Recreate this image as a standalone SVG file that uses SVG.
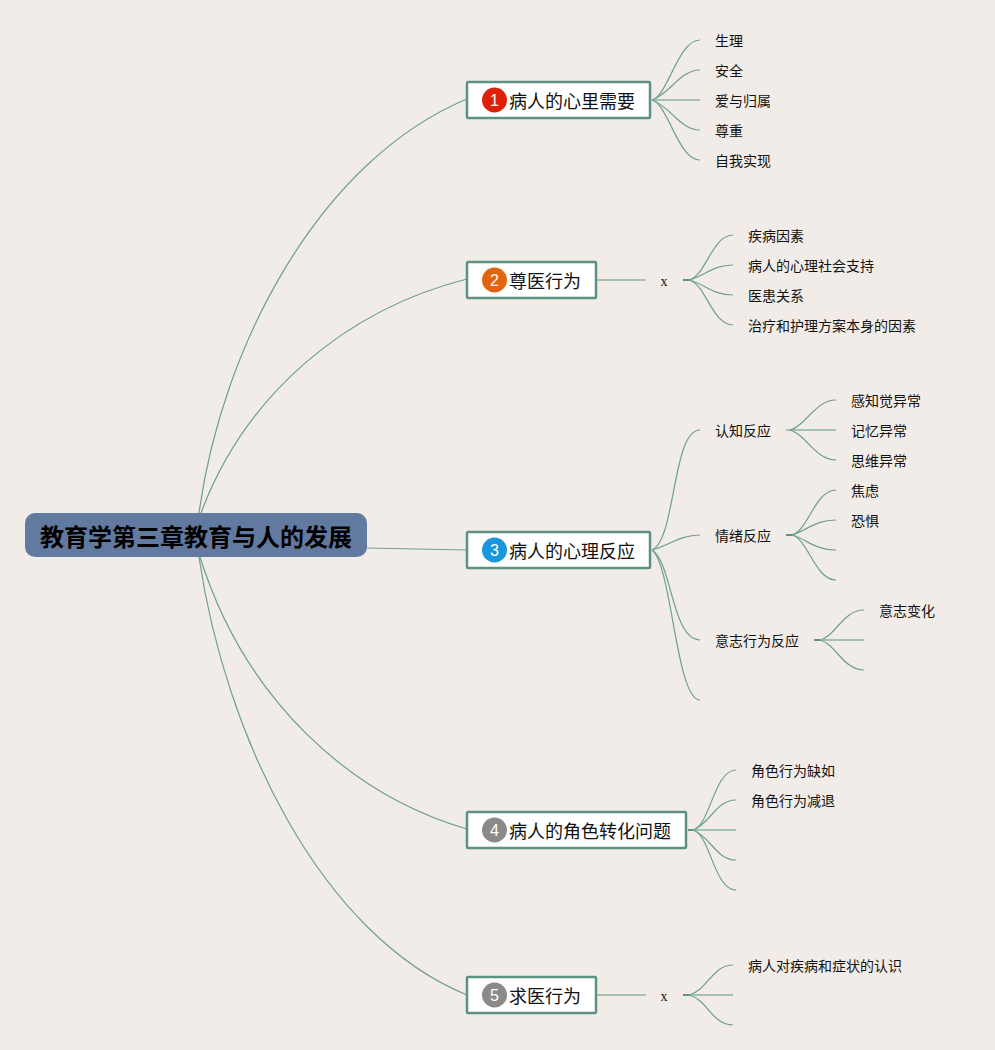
<svg xmlns="http://www.w3.org/2000/svg" width="995" height="1050" viewBox="0 0 995 1050">
<style>
text{font-family:"Noto Sans CJK SC","Liberation Sans",sans-serif;fill:#111}
.c{fill:none;stroke:#6fa08f;stroke-width:1.2}
.s{fill:none;stroke:#8db5a7;stroke-width:1.6}
.t{fill:none;stroke:#5f9484;stroke-width:2}
.b{fill:#fff;stroke:#5d9184;stroke-width:2.5}
.l{font-size:14px}
.m{font-size:18px}
.n{font-size:16px;fill:#fff;text-anchor:middle;font-family:"Liberation Sans",sans-serif}
.x{font-size:14px;font-family:"Liberation Serif",serif;text-anchor:middle}
</style>
<rect width="995" height="1050" fill="#f1ece7"/>
<g id="connectors">
<path class="c" d="M199 513C222 345 320 160 467 99"/>
<path class="c" d="M201 513C245 395 345 310 467 279"/>
<path class="c" d="M367 548L467 550"/>
<path class="c" d="M200 557C245 700 350 795 467 829"/>
<path class="c" d="M199 557C225 735 320 935 467 995"/>

<path class="c" d="M652 100C668 96 678 40 700 40"/>
<path class="c" d="M652 100C670 94 680 70 700 70"/>
<path class="s" d="M652 100H700"/>
<path class="c" d="M652 100C670 106 680 130 700 130"/>
<path class="c" d="M652 100C668 104 678 160 700 160"/>

<path class="s" d="M597 280H646"/>
<path class="t" d="M683 280H691"/>
<path class="c" d="M689 280C706 276 712 235 733 235"/>
<path class="c" d="M689 280C705 276 712 265 733 265"/>
<path class="c" d="M689 280C705 284 712 295 733 295"/>
<path class="c" d="M689 280C706 284 712 325 733 325"/>

<path class="c" d="M652 550C676 540 672 430 700 430"/>
<path class="c" d="M652 550C668 546 680 535 700 535"/>
<path class="c" d="M652 550C672 562 672 640 700 640"/>
<path class="c" d="M652 550C672 565 676 700 700 700"/>

<path class="s" d="M786 430H836"/>
<path class="c" d="M790 430C806 426 815 400 836 400"/>
<path class="c" d="M790 430C806 434 815 460 836 460"/>
<path class="t" d="M786 535H794"/>
<path class="c" d="M792 535C808 531 815 490 836 490"/>
<path class="c" d="M792 535C808 530 815 520 836 520"/>
<path class="c" d="M792 535C808 540 815 550 836 550"/>
<path class="c" d="M792 535C808 539 815 580 836 580"/>
<path class="t" d="M814 640H822"/>
<path class="c" d="M820 640C836 636 843 610 864 610"/>
<path class="s" d="M820 640H864"/>
<path class="c" d="M820 640C836 644 843 670 864 670"/>

<path class="t" d="M688 830H696"/>
<path class="c" d="M693 830C710 826 714 770 736 770"/>
<path class="c" d="M693 830C710 824 716 800 736 800"/>
<path class="s" d="M693 830H736"/>
<path class="c" d="M693 830C710 836 716 860 736 860"/>
<path class="c" d="M693 830C710 834 714 890 736 890"/>

<path class="s" d="M597 995H646"/>
<path class="t" d="M683 995H691"/>
<path class="c" d="M689 995C708 990 712 965 733 965"/>
<path class="s" d="M689 995H733"/>
<path class="c" d="M689 995C708 1000 712 1025 733 1025"/>
</g>

<g id="root">
<rect x="25" y="513" width="342" height="44" rx="10" fill="#627aa0"/>
<text x="40" y="546" style="font-size:24px;font-weight:700;fill:#000">教育学第三章教育与人的发展</text>
</g>

<g id="node1">
<rect class="b" x="467" y="82" width="183" height="36" rx="1"/>
<circle cx="494.500" cy="100" r="12.500" fill="#dc2108"/>
<text class="n" x="494.500" y="106">1</text>
<text class="m" x="509" y="108">病人的心里需要</text>
</g>
<g id="node2">
<rect class="b" x="467" y="262" width="129" height="36" rx="1"/>
<circle cx="494.500" cy="280" r="12.500" fill="#e3640f"/>
<text class="n" x="494.500" y="286">2</text>
<text class="m" x="509" y="288">尊医行为</text>
</g>
<g id="node3">
<rect class="b" x="467" y="532" width="183" height="36" rx="1"/>
<circle cx="494.500" cy="550" r="12.500" fill="#1a96dc"/>
<text class="n" x="494.500" y="556">3</text>
<text class="m" x="509" y="558">病人的心理反应</text>
</g>
<g id="node4">
<rect class="b" x="467" y="812" width="219" height="36" rx="1"/>
<circle cx="494.500" cy="830" r="12.500" fill="#8a8a8a"/>
<text class="n" x="494.500" y="836">4</text>
<text class="m" x="509" y="838">病人的角色转化问题</text>
</g>
<g id="node5">
<rect class="b" x="467" y="977" width="129" height="36" rx="1"/>
<circle cx="494.500" cy="995" r="12.500" fill="#8a8a8a"/>
<text class="n" x="494.500" y="1001">5</text>
<text class="m" x="509" y="1003">求医行为</text>
</g>

<g id="leaves">
<text class="l" x="715" y="46">生理</text>
<text class="l" x="715" y="76">安全</text>
<text class="l" x="715" y="106">爱与归属</text>
<text class="l" x="715" y="136">尊重</text>
<text class="l" x="715" y="166">自我实现</text>
<text class="x" x="664" y="286">x</text>
<text class="l" x="748" y="241">疾病因素</text>
<text class="l" x="748" y="271">病人的心理社会支持</text>
<text class="l" x="748" y="301">医患关系</text>
<text class="l" x="748" y="331">治疗和护理方案本身的因素</text>
<text class="l" x="715" y="436">认知反应</text>
<text class="l" x="715" y="541">情绪反应</text>
<text class="l" x="715" y="646">意志行为反应</text>
<text class="l" x="851" y="406">感知觉异常</text>
<text class="l" x="851" y="436">记忆异常</text>
<text class="l" x="851" y="466">思维异常</text>
<text class="l" x="851" y="496">焦虑</text>
<text class="l" x="851" y="526">恐惧</text>
<text class="l" x="879" y="616">意志变化</text>
<text class="l" x="751" y="776">角色行为缺如</text>
<text class="l" x="751" y="806">角色行为减退</text>
<text class="x" x="664" y="1001">x</text>
<text class="l" x="748" y="971">病人对疾病和症状的认识</text>
</g>
</svg>
